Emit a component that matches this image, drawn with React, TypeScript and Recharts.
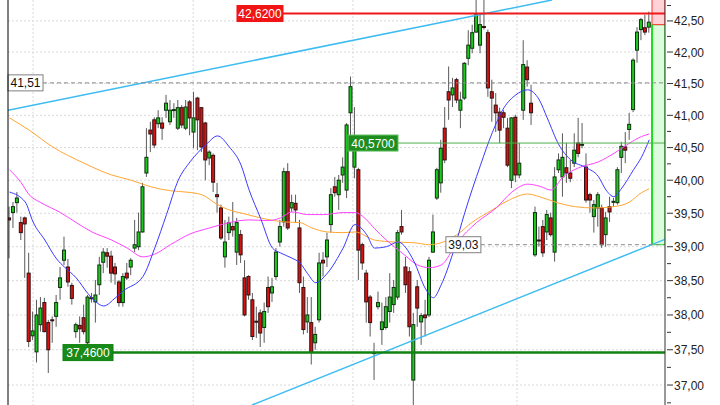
import {
  ComposedChart,
  Bar,
  Line,
  XAxis,
  YAxis,
  CartesianGrid,
  ReferenceLine,
  ReferenceArea,
} from "recharts";

// daily candles (index 0 = leftmost)
const opens = [
  39.43, 39.51, 39.66, 39.36, 39.43, 38.61, 37.7, 37.47, 37.86, 38.18,
  37.89, 37.93, 37.98, 38.4, 38.8, 38.7, 38.43, 37.76, 37.85, 37.96,
  37.6, 38.25, 38.19, 38.44, 38.77, 38.91, 38.86, 38.7, 38.48, 38.18,
  38.61, 38.7, 38.98, 39.0, 39.22, 40.11, 40.77, 40.93, 40.87, 40.88,
  41.08, 40.9, 41.08, 40.8, 41.12, 40.8, 41.21, 40.74, 41.27, 41.12,
  40.88, 40.34, 40.38, 39.78, 39.58, 38.85, 39.21, 39.3, 38.92, 39.18,
  38.54, 38.56, 38.22, 37.91, 38.03, 37.82, 38.4, 38.32, 38.56, 39.07,
  39.37, 40.13, 39.58, 39.65, 39.28, 38.4, 37.9, 37.89, 37.6, 37.93,
  38.8, 38.85, 39.33, 39.9, 39.78, 40.08, 39.85, 41.04, 40.2, 40.16,
  39.03, 38.61, 38.26, 37.45, 38.12, 37.79, 37.82, 38.05, 38.15, 38.26,
  39.3, 38.7, 38.63, 37.07, 38.41, 37.9, 38.0, 38.0, 38.92, 39.73,
  39.96, 40.8, 41.37, 41.32, 41.56, 41.08, 41.27, 41.9, 42.06, 42.32,
  42.11, 42.41, 42.31, 41.37, 41.16, 41.05, 41.04, 40.8, 40.0, 40.97,
  40.08, 41.08, 41.76, 41.19, 38.88, 39.1, 39.3, 39.22, 39.43, 38.92,
  40.16, 40.05, 40.19, 40.11, 40.26, 40.57, 40.54, 40.2, 39.78, 39.45,
  39.58, 39.58, 39.18, 39.6, 39.67, 39.66, 40.35, 40.51, 40.78, 41.09,
  42.03, 42.36, 42.39, 42.4,
];
const highs = [
  39.6, 39.67, 39.82, 39.45, 39.45, 38.91, 38.05, 38.22, 38.26, 38.25,
  37.93, 37.98, 38.29, 38.7, 39.15, 38.82, 38.47, 37.89, 37.98, 38.15,
  38.29, 38.32, 38.51, 38.85, 38.98, 38.98, 38.94, 38.76, 38.51, 38.61,
  38.76, 38.83, 39.4, 39.51, 39.96, 40.8, 40.9, 40.97, 41.08, 40.97,
  41.32, 41.24, 41.19, 41.24, 41.16, 41.24, 41.24, 41.37, 41.29, 41.13,
  40.9, 40.46, 40.41, 39.96, 39.63, 39.4, 39.45, 39.67, 39.43, 39.25,
  38.8, 38.58, 38.32, 38.12, 38.08, 38.18, 38.56, 38.54, 38.98, 39.4,
  40.19, 40.26, 39.78, 39.78, 39.4, 38.56, 38.26, 38.26, 37.83, 38.91,
  38.92, 39.21, 39.88, 40.05, 40.08, 40.35, 40.88, 41.61, 41.13, 40.19,
  39.06, 38.66, 38.29, 37.6, 38.34, 38.18, 38.26, 38.61, 38.51, 39.25,
  39.55, 38.85, 38.7, 38.03, 38.51, 38.03, 38.22, 38.85, 39.48, 40.19,
  40.62, 41.13, 41.77, 41.59, 41.59, 41.37, 41.84, 42.35, 42.44, 42.84,
  42.6, 42.9, 42.36, 41.56, 41.35, 41.12, 41.08, 40.96, 40.97, 41.01,
  40.57, 42.19, 41.87, 41.48, 39.6, 39.3, 39.4, 39.55, 39.51, 40.2,
  40.41, 40.72, 40.57, 40.31, 40.72, 40.96, 40.88, 40.41, 39.81, 39.7,
  39.82, 39.63, 39.52, 39.75, 39.73, 40.2, 40.59, 40.74, 41.04, 41.9,
  42.4, 42.55, 42.6, 42.65,
];
const lows = [
  38.83, 39.28, 39.51, 39.1, 38.54, 37.54, 37.64, 37.32, 37.76, 37.75,
  37.17, 37.6, 37.83, 38.22, 38.73, 38.41, 38.15, 37.67, 37.6, 37.72,
  37.57, 38.18, 37.89, 38.29, 38.61, 38.69, 38.47, 38.44, 38.12, 38.12,
  38.51, 38.58, 38.92, 38.95, 39.21, 40.05, 40.43, 40.49, 40.8, 40.62,
  40.96, 40.85, 40.96, 40.77, 40.8, 40.77, 40.69, 40.49, 40.46, 40.43,
  40.0, 40.23, 39.82, 39.51, 39.1, 38.69, 39.1, 39.15, 38.73, 38.76,
  37.98, 38.22, 37.64, 37.67, 37.54, 37.6, 38.03, 38.19, 38.51, 39.0,
  39.3, 39.25, 39.52, 39.36, 38.32, 37.72, 37.74, 37.29, 37.5, 37.89,
  38.56, 38.7, 39.21, 39.75, 39.55, 39.96, 39.73, 40.66, 40.03, 38.51,
  38.66, 37.89, 37.69, 37.07, 38.08, 37.57, 37.79, 37.89, 38.03, 38.22,
  39.18, 38.32, 37.69, 36.68, 37.83, 37.57, 37.69, 37.97, 38.91, 39.7,
  39.81, 40.26, 40.93, 41.13, 41.19, 40.8, 41.24, 41.79, 41.98, 42.31,
  41.98, 42.36, 41.29, 40.9, 40.74, 40.57, 40.8, 40.2, 39.88, 39.97,
  40.03, 40.93, 41.45, 40.85, 38.85, 39.0, 38.85, 39.1, 39.15, 38.78,
  40.11, 39.75, 39.96, 39.97, 40.2, 40.35, 40.49, 39.66, 39.51, 39.21,
  39.3, 38.98, 39.0, 39.37, 39.6, 39.63, 40.11, 40.26, 40.62, 41.05,
  41.83, 42.19, 42.27, 42.31,
];
const closes = [
  39.4, 39.6, 39.73, 39.21, 39.34, 37.62, 37.77, 38.0, 38.1, 37.76,
  37.5, 37.92, 38.18, 38.54, 38.95, 38.48, 38.24, 37.86, 37.8, 37.76,
  38.26, 38.24, 38.29, 38.73, 38.92, 38.86, 38.61, 38.6, 38.18, 38.56,
  38.54, 38.8, 39.03, 39.22, 39.9, 40.35, 40.71, 40.54, 40.96, 40.8,
  41.19, 41.08, 41.09, 41.12, 40.85, 41.13, 40.96, 40.96, 40.93, 40.51,
  40.31, 40.43, 39.97, 39.75, 39.13, 39.07, 39.36, 39.25, 39.36, 38.88,
  38.0, 38.29, 37.69, 37.9, 37.74, 38.05, 38.12, 38.41, 38.92, 39.3,
  40.13, 39.28, 39.66, 39.55, 38.47, 37.79, 38.0, 37.47, 37.72, 38.76,
  38.76, 39.1, 39.78, 39.81, 40.0, 40.2, 40.85, 41.45, 40.62, 38.95,
  38.76, 38.19, 37.89, 37.46, 38.18, 37.9, 38.12, 38.26, 38.4, 39.21,
  39.22, 38.44, 37.83, 37.86, 38.1, 37.99, 37.96, 38.8, 39.22, 40.16,
  40.49, 40.31, 41.24, 41.43, 41.24, 41.24, 41.82, 42.11, 42.31, 42.6,
  42.44, 42.4, 41.43, 41.27, 41.04, 40.77, 40.97, 40.23, 40.96, 40.08,
  40.26, 41.8, 41.56, 41.04, 39.51, 39.09, 38.91, 39.48, 39.18, 40.05,
  40.31, 40.35, 40.11, 40.03, 40.46, 40.41, 40.55, 39.7, 39.7, 39.63,
  39.78, 39.03, 39.43, 39.52, 39.68, 40.16, 40.52, 40.46, 40.86, 41.87,
  42.32, 42.52, 42.32, 42.48,
];

// moving averages as [candle index, value]
const blueMA: [number, number][] = [
  [0, 39.82], [4, 39.67], [6, 39.37], [9, 39.1], [12, 38.82], [14, 38.7],
  [17, 38.54], [20, 38.31], [22, 38.19], [24, 38.13], [27, 38.25], [29, 38.35],
  [34, 38.56], [37, 38.98], [40, 39.48], [43, 40.0], [46, 40.28], [50, 40.54],
  [53, 40.68], [56, 40.51], [59, 40.23], [61, 39.86], [64, 39.42], [67, 38.98],
  [69, 38.91], [72, 38.83], [74, 38.76], [76, 38.6], [78, 38.47], [81, 38.61],
  [85, 38.98], [88, 39.33], [91, 39.18], [93, 38.98], [96, 39.0], [99, 39.07],
  [103, 38.79], [106, 38.38], [108, 38.25], [110, 38.44], [113, 38.91],
  [116, 39.51], [120, 40.23], [123, 40.73], [126, 41.12], [129, 41.32],
  [132, 41.4], [135, 41.24], [137, 40.96], [140, 40.54], [143, 40.31],
  [147, 40.19], [150, 40.06], [152, 39.85], [154, 39.75], [156, 39.88],
  [159, 40.16], [161, 40.35], [163, 40.62],
];
const magentaMA: [number, number][] = [
  [0, 40.16], [3, 39.96], [5, 39.78], [8, 39.66], [13, 39.51], [17, 39.36],
  [21, 39.22], [26, 39.1], [30, 38.98], [34, 38.85], [37, 38.89], [41, 39.03],
  [46, 39.19], [51, 39.28], [56, 39.36], [61, 39.4], [66, 39.39], [69, 39.43],
  [72, 39.52], [76, 39.48], [80, 39.48], [85, 39.51], [88, 39.51], [91, 39.4],
  [93, 39.27], [96, 39.1], [100, 38.91], [104, 38.73], [107, 38.69],
  [110, 38.73], [114, 39.06], [119, 39.36], [124, 39.58], [128, 39.82],
  [132, 39.94], [135, 39.91], [138, 39.85], [141, 40.05], [145, 40.19],
  [150, 40.28], [154, 40.41], [158, 40.57], [161, 40.67], [163, 40.71],
];
const orangeMA: [number, number][] = [
  [0, 40.96], [5, 40.77], [11, 40.51], [19, 40.26], [26, 40.08], [31, 40.0],
  [36, 39.9], [41, 39.84], [45, 39.82], [49, 39.78], [53, 39.63], [56, 39.55],
  [60, 39.49], [64, 39.43], [70, 39.37], [74, 39.36], [77, 39.28], [81, 39.22],
  [85, 39.21], [88, 39.22], [93, 39.1], [98, 39.07], [103, 39.06], [107, 39.03],
  [110, 39.06], [114, 39.18], [118, 39.37], [123, 39.55], [127, 39.69],
  [132, 39.79], [135, 39.75], [139, 39.67], [144, 39.6], [149, 39.58],
  [154, 39.6], [158, 39.67], [161, 39.81], [163, 39.87],
];

const priceTicks = [
  36.75, 37, 37.25, 37.5, 37.75, 38, 38.25, 38.5, 38.75, 39, 39.25, 39.5,
  39.75, 40, 40.25, 40.5, 40.75, 41, 41.25, 41.5, 41.75, 42, 42.25, 42.5, 42.75,
];
const gridPrices = [37, 37.5, 38, 38.5, 39, 39.5, 40, 40.5, 41, 41.5, 42, 42.5];
const monthStarts = [6, 46.8, 87.5, 129.3];

const X_DOMAIN: [number, number] = [-0.382, 167.01];
const Y_DOMAIN: [number, number] = [36.72, 42.84];
const FONT = "'Liberation Sans', Arial, sans-serif";

const data = opens.map((o, i) => ({
  i,
  range: [lows[i], highs[i]],
  open: o,
  high: highs[i],
  low: lows[i],
  close: closes[i],
  blue: null as number | null,
  magenta: null as number | null,
  orange: null as number | null,
}));
blueMA.forEach(([i, v]) => (data[i].blue = v));
magentaMA.forEach(([i, v]) => (data[i].magenta = v));
orangeMA.forEach(([i, v]) => (data[i].orange = v));

function Candle(props: any) {
  const { x, y, width, height, payload } = props;
  if (!payload || x == null) return null;
  const { open, close, high, low } = payload;
  const cx = x + width / 2;
  const lh = Math.log(high);
  const ll = Math.log(low);
  const yOf = (v: number) =>
    lh === ll ? y : y + ((lh - Math.log(v)) / (lh - ll)) * height;
  const yo = yOf(open);
  const yc = yOf(close);
  const up = close >= open;
  const top = Math.min(yo, yc);
  const bh = Math.max(Math.abs(yo - yc), 1);
  return (
    <g>
      <line x1={cx} x2={cx} y1={y} y2={y + height} stroke="#5a5a5a" strokeWidth={1} />
      <rect
        x={cx - 1.5}
        y={top}
        width={3}
        height={bh}
        fill={up ? "#1ec81e" : "#d41414"}
        stroke={up ? "#103010" : "#301010"}
        strokeWidth={1}
      />
    </g>
  );
}

function PriceTick(props: any) {
  const { x, y, payload } = props;
  const v = payload.value as number;
  const major = Math.abs(v * 2 - Math.round(v * 2)) < 1e-6;
  return (
    <g>
      <line x1={x + 2} x2={x + (major ? 8 : 6)} y1={y} y2={y} stroke="#333" />
      {major && (
        <text x={x + 9} y={y + 4.5} fontSize={12} fontFamily={FONT} fill="#222">
          {v.toFixed(2).replace(".", ",")}
        </text>
      )}
    </g>
  );
}

// label box drawn just left of where the level line starts
function levelBox(text: string, w: number, fill: string, stroke: string, color: string) {
  return (p: any) => {
    const vb = p.viewBox || {};
    const x = vb.x;
    const y = vb.y;
    return (
      <g>
        <rect x={x - w} y={y - 8} width={w} height={16} fill={fill} stroke={stroke} strokeWidth={1} />
        <text x={x - w / 2} y={y + 4.5} textAnchor="middle" fontSize={12} fontFamily={FONT} fill={color}>
          {text}
        </text>
      </g>
    );
  };
}

export default function App() {
  return (
    <div style={{ width: 720, height: 405, background: "#fff", overflow: "hidden" }}>
      <style>{`body{margin:0;background:#fff}`}</style>
      <ComposedChart width={720} height={405} data={data} margin={{ top: 0, right: 0, bottom: 0, left: 0 }}>
        <CartesianGrid
          horizontalValues={gridPrices}
          verticalValues={monthStarts}
          stroke="#d9d9d9"
          strokeDasharray="2 2"
        />
        <XAxis dataKey="i" type="number" domain={X_DOMAIN} allowDataOverflow hide />
        <YAxis
          orientation="right"
          scale="log"
          domain={Y_DOMAIN}
          allowDataOverflow
          ticks={priceTicks}
          interval={0}
          width={55}
          axisLine={{ stroke: "#333" }}
          tickLine={false}
          tickSize={0}
          tickMargin={0}
          tick={<PriceTick />}
        />
        <YAxis
          yAxisId="frame"
          orientation="left"
          width={8}
          domain={[0, 1]}
          tick={false}
          tickLine={false}
          axisLine={{ stroke: "#000" }}
        />

        <ReferenceArea x1={163.7} x2={X_DOMAIN[1]} y1={39.03} y2={42.44} fill="#ddfcdd" fillOpacity={1} stroke="#22dd22" ifOverflow="hidden" />
        <ReferenceArea x1={163.7} x2={X_DOMAIN[1]} y1={42.44} y2={42.9} fill="#ffd2d8" fillOpacity={1} stroke="#ff3030" ifOverflow="hidden" />
        <ReferenceLine segment={[{ x: 163.7, y: 39.03 }, { x: 163.7, y: 42.44 }]} stroke="#1ee01e" strokeWidth={2} ifOverflow="hidden" />

        <Line dataKey="orange" type="monotone" stroke="#ffa634" strokeWidth={1} dot={false} connectNulls isAnimationActive={false} />
        <Line dataKey="magenta" type="monotone" stroke="#ff44ff" strokeWidth={1} dot={false} connectNulls isAnimationActive={false} />
        <Line dataKey="blue" type="monotone" stroke="#3a3aff" strokeWidth={1} dot={false} connectNulls isAnimationActive={false} />

        <ReferenceLine segment={[{ x: -0.38, y: 41.08 }, { x: 138.2, y: 42.84 }]} stroke="#3cbcf2" strokeWidth={1.5} ifOverflow="hidden" />
        <ReferenceLine segment={[{ x: 61.8, y: 36.72 }, { x: 167.0, y: 39.11 }]} stroke="#3cbcf2" strokeWidth={1.5} ifOverflow="hidden" />

        <Bar dataKey="range" barSize={3} shape={<Candle />} isAnimationActive={false} />

        <ReferenceLine
          segment={[{ x: 8.54, y: 41.51 }, { x: X_DOMAIN[1], y: 41.51 }]}
          stroke="#8a8a8a"
          strokeDasharray="4 3"
          ifOverflow="hidden"
          label={levelBox("41,51", 35, "#ffffff", "#808080", "#111")}
        />
        <ReferenceLine
          segment={[{ x: 120.1, y: 39.03 }, { x: X_DOMAIN[1], y: 39.03 }]}
          stroke="#8a8a8a"
          strokeDasharray="4 3"
          ifOverflow="hidden"
          label={levelBox("39,03", 35, "#ffffff", "#808080", "#111")}
        />
        <ReferenceLine
          segment={[{ x: 98.98, y: 40.57 }, { x: X_DOMAIN[1], y: 40.57 }]}
          stroke="#4caf4c"
          strokeWidth={1}
          ifOverflow="hidden"
          label={levelBox("40,5700", 50, "#1e8c1e", "#5cbf5c", "#ffffff")}
        />
        <ReferenceLine
          segment={[{ x: 26.37, y: 37.46 }, { x: X_DOMAIN[1], y: 37.46 }]}
          stroke="#0f820f"
          strokeWidth={2.5}
          ifOverflow="hidden"
          label={levelBox("37,4600", 50, "#188a18", "#0f820f", "#ffffff")}
        />
        <ReferenceLine
          segment={[{ x: 69.68, y: 42.62 }, { x: X_DOMAIN[1], y: 42.62 }]}
          stroke="#f01818"
          strokeWidth={2}
          ifOverflow="hidden"
          label={levelBox("42,6200", 46, "#f01414", "#f01414", "#ffffff")}
        />
      </ComposedChart>
    </div>
  );
}
